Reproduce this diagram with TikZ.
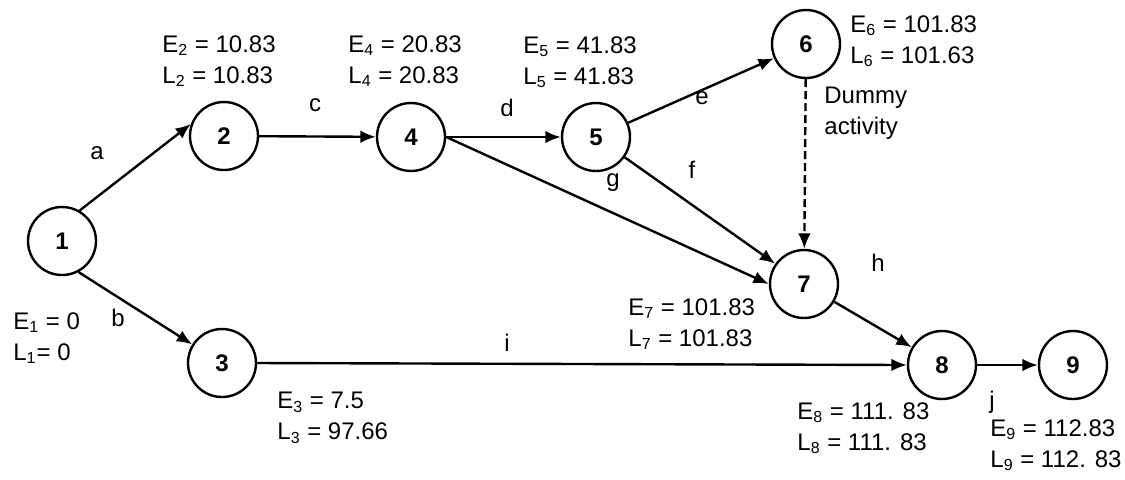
\documentclass[tikz,border=0pt]{standalone}
\usepackage{fontspec}
\setmainfont{Liberation Sans}
\usetikzlibrary{arrows.meta}

\begin{document}
\begin{tikzpicture}[x=0.5pt, y=-0.5pt, every node/.style={font=\fontsize{12}{15.5}\selectfont}, >={Latex[length=2.7mm, width=2.2mm]},
	event/.style={draw, circle, line width=1.2pt, minimum size=34pt, inner sep=0pt, font=\fontsize{12}{14}\selectfont\bfseries},
	act/.style={->, line width=1.2pt},
	info/.style={anchor=west, align=left, inner sep=0pt}]
	\useasboundingbox (0,0) rectangle (1125,479);
	% events
	\node[event] (n1) at (62,241) {1};
	\node[event] (n2) at (224,136) {2};
	\node[event] (n3) at (222,363) {3};
	\node[event] (n4) at (411,137) {4};
	\node[event] (n5) at (596,137) {5};
	\node[event] (n6) at (806,44) {6};
	\node[event] (n7) at (804,284) {7};
	\node[event] (n8) at (942,365) {8};
	\node[event] (n9) at (1073,365) {9};
	% activities
	\draw[act] (n1.60) -- (n2.160);
	\draw[act] (n1.-62) -- (n3.148);
	\draw[act] (n2) -- (n4);
	\draw[act] (n4.east) -- (n5.west);
	\draw[act] (n5) -- (n6);
	\draw[act] (n5) -- (n7);
	\draw[act] (n4.east) -- (n7.west);
	\draw[act, dashed, dash pattern=on 4pt off 2pt] (n6) -- (n7);
	\draw[act] (n7) -- (n8);
	\draw[act] (n3.east) -- (n8.west);
	\draw[act] (n8) -- (n9);
	\node (la) at (97,153) {a};
	\node (lb) at (118,318) {b};
	\node (lc) at (315,105) {c};
	\node (ld) at (507,108) {d};
	\node (le) at (702,98) {e};
	\node (lf) at (692,170) {f};
	\node (lg) at (613,183) {g};
	\node (lh) at (878,263) {h};
	\node (li) at (507,343) {i};
	\node (lj) at (992,402) {j};
	\node[info] (dummy) at (824,113) {Dummy\\activity};
	% earliest / latest times
	\node[info] (t1) at (13,338) {E\textsubscript{1} = 0\\L\textsubscript{1}= 0};
	\node[info] (t2) at (162,61) {E\textsubscript{2} = 10.83\\L\textsubscript{2} = 10.83};
	\node[info] (t3) at (277,418) {E\textsubscript{3} = 7.5\\L\textsubscript{3} = 97.66};
	\node[info] (t4) at (348,61) {E\textsubscript{4} = 20.83\\L\textsubscript{4} = 20.83};
	\node[info] (t5) at (523,62) {E\textsubscript{5} = 41.83\\L\textsubscript{5} = 41.83};
	\node[info] (t6) at (850,41) {E\textsubscript{6} = 101.83\\L\textsubscript{6} = 101.63};
	\node[info] (t7) at (628,324) {E\textsubscript{7} = 101.83\\L\textsubscript{7} = 101.83};
	\node[info] (t8) at (797,428) {E\textsubscript{8} = 111. 83\\L\textsubscript{8} = 111. 83};
	\node[info] (t9) at (990,445) {E\textsubscript{9} = 112.83\\L\textsubscript{9} = 112. 83};
\end{tikzpicture}
\end{document}
